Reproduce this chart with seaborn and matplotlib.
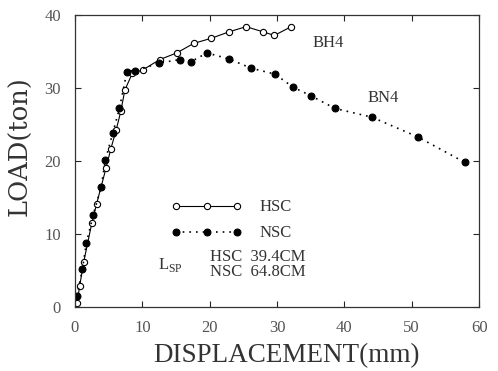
import numpy as np
import pandas as pd
import matplotlib
matplotlib.use("Agg")
import matplotlib.pyplot as plt
import seaborn as sns

# data: displacement (mm), load (ton)
hsc_disp = [0.3, 0.7, 1.3, 2.5, 3.2, 4.6, 5.3, 6.1, 6.8, 7.4, 8.5, 10.1, 12.6, 15.1,
            17.6, 20.2, 22.9, 25.4, 27.9, 29.6, 32.1]
hsc_load = [0.5, 2.9, 6.2, 11.5, 14.1, 19.0, 21.6, 24.2, 26.8, 29.7, 32.0, 32.5, 33.9, 34.8,
            36.1, 36.8, 37.7, 38.4, 37.7, 37.2, 38.4]

nsc_disp = [0.3, 1.1, 1.7, 2.7, 3.9, 4.5, 5.6, 6.6, 7.7, 8.9, 12.4, 15.6, 17.2, 19.6,
            22.8, 26.2, 29.7, 32.4, 35.1, 38.6, 44.1, 50.9, 57.9]
nsc_load = [1.5, 5.2, 8.8, 12.6, 16.5, 20.1, 23.8, 27.2, 32.2, 32.3, 33.4, 33.9, 33.6, 34.8,
            34.0, 32.7, 31.9, 30.1, 28.9, 27.2, 26.0, 23.3, 19.8]

hsc = pd.DataFrame({"disp": hsc_disp, "load": hsc_load})
nsc = pd.DataFrame({"disp": nsc_disp, "load": nsc_load})

sns.set_style("ticks")
plt.rcParams['font.family'] = ['Liberation Serif', 'DejaVu Serif']
plt.rcParams['mathtext.fontset'] = 'custom'
plt.rcParams['mathtext.rm'] = 'Liberation Serif'

fig = plt.figure(figsize=(4.98, 3.71), dpi=100)
ax = fig.add_axes([0.1506, 0.1725, 0.8114, 0.7871])

sns.lineplot(data=hsc, x="disp", y="load", ax=ax, sort=False, color="black",
             lw=0.8, marker="o", markersize=4.5, markerfacecolor="white",
             markeredgecolor="black", markeredgewidth=0.8, label="HSC")
sns.lineplot(data=nsc, x="disp", y="load", ax=ax, sort=False, color="black",
             lw=1.2, linestyle=(0, (1, 3)), marker="o", markersize=5,
             markerfacecolor="black", markeredgecolor="black", label="NSC")

ax.set_xlim(0, 60)
ax.set_ylim(0, 40)
ax.set_xticks(range(0, 61, 10))
ax.set_yticks(range(0, 41, 10))
ax.tick_params(direction="in", top=True, right=True, length=4, width=0.8,
               labelsize=12, labelcolor="#555555")
ax.tick_params(axis="x", pad=9)
ax.tick_params(axis="y", pad=10)
for s in ax.spines.values():
    s.set_linewidth(0.9)
    s.set_color("#333333")

ax.set_xlabel("DISPLACEMENT(mm)", fontsize=19.5, color="#333333")
ax.set_ylabel("LOAD(ton)", fontsize=18.5, color="#333333", family="DejaVu Serif")
ax.xaxis.set_label_coords(0.523, -0.123)
ax.yaxis.set_label_coords(-0.105, 0.55)

leg = ax.legend(loc="upper left", bbox_to_anchor=(0.2, 0.42), frameon=False,
                numpoints=3, handlelength=4.3, fontsize=12, labelspacing=0.6,
                handletextpad=1.0)
for t in leg.get_texts():
    t.set_color("#333333")

ax.text(0.205, 0.145, r"L$_{\mathrm{SP}}$", transform=ax.transAxes, fontsize=12,
        va="center", color="#333333")
ax.text(0.335, 0.145, "HSC  39.4CM\nNSC  64.8CM", transform=ax.transAxes,
        fontsize=12, va="center", color="#333333", linespacing=0.95)

ax.text(35.3, 36.2, "BH4", fontsize=12, color="#333333", va="center")
ax.text(43.5, 28.6, "BN4", fontsize=12, color="#333333", va="center")

fig.savefig("out.png", dpi=100)
